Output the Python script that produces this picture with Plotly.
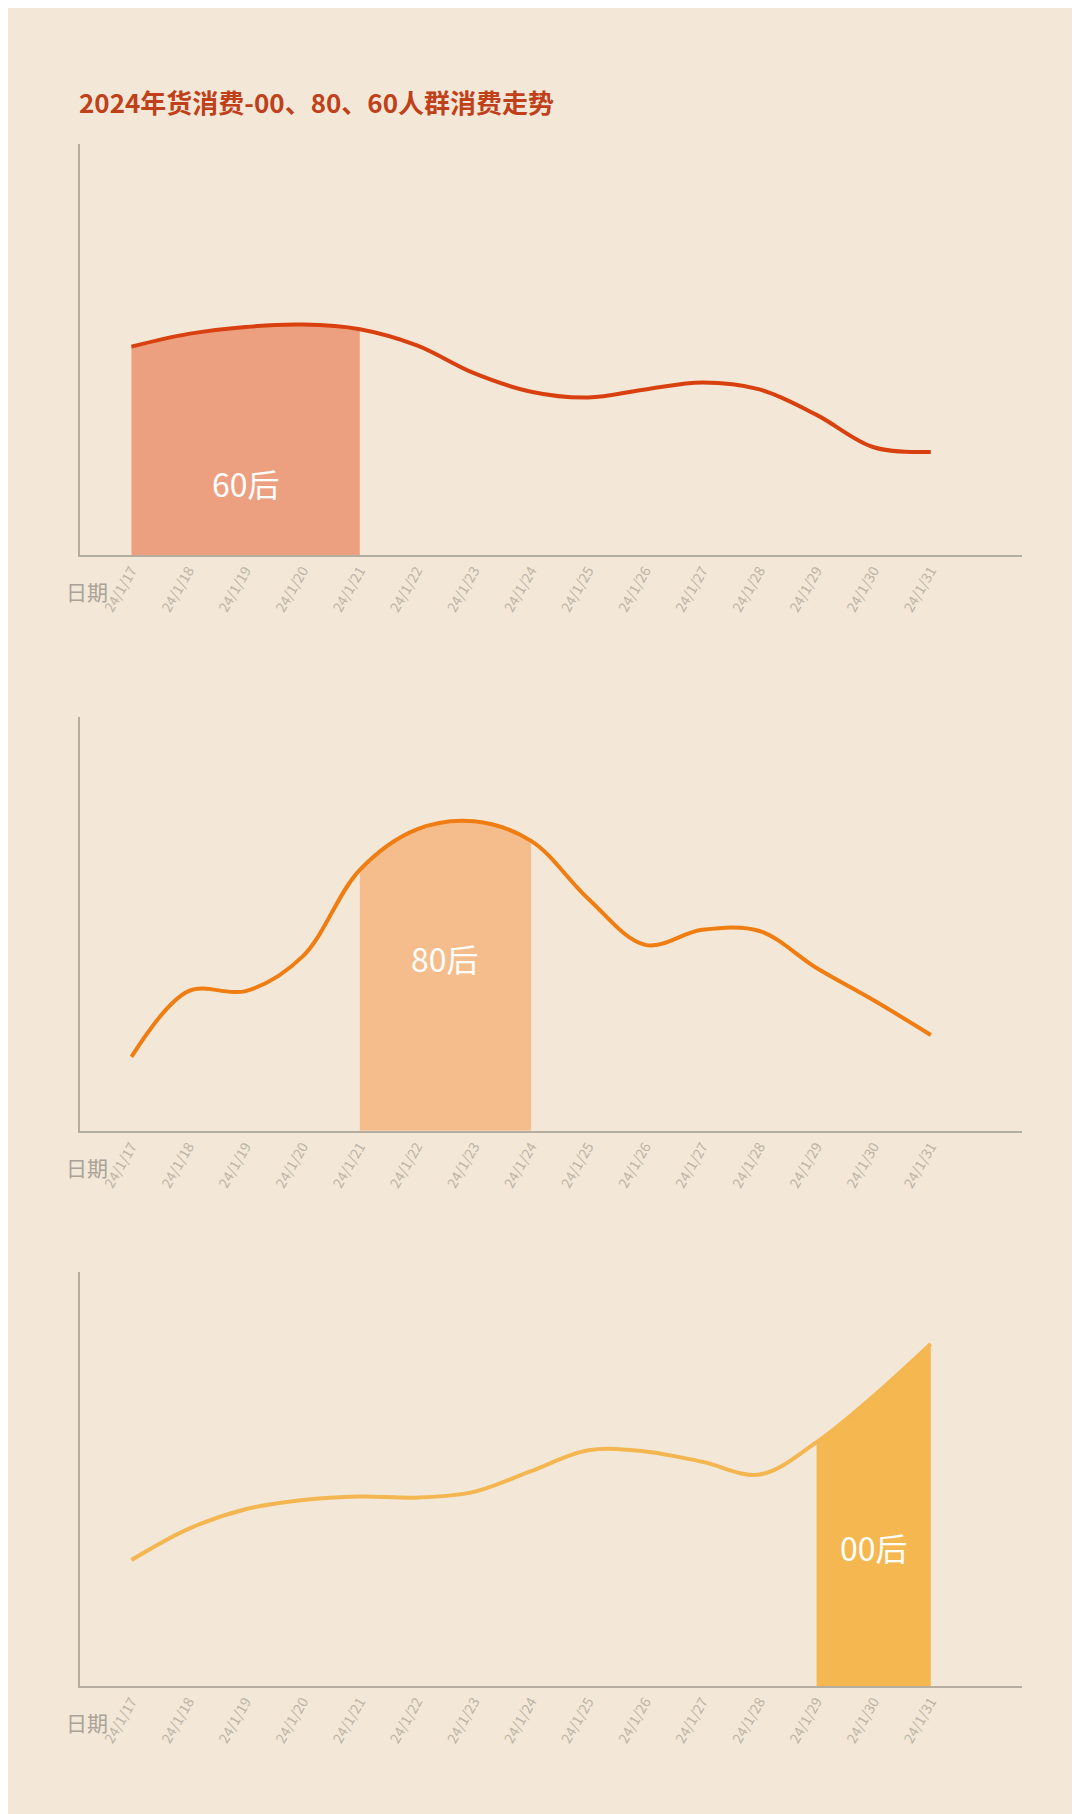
import plotly.graph_objects as go

dates = ["24/1/17", "24/1/18", "24/1/19", "24/1/20", "24/1/21", "24/1/22", "24/1/23", "24/1/24",
         "24/1/25", "24/1/26", "24/1/27", "24/1/28", "24/1/29", "24/1/30", "24/1/31"]
idx = list(range(len(dates)))

v60 = [180, 191, 197, 199, 195, 181, 157, 141, 136, 143, 149, 143, 121, 93, 89]
v80 = [64, 121, 121, 151, 226, 261, 268, 251, 201, 161, 174, 173, 141, 113, 83]
v00 = [109, 136, 153, 161, 164, 163, 168, 186, 204, 203, 194, 183, 211, 251, 296]

groups = [
    ("60后", v60, (0, 4), 62, "#d9400f", "#eda080"),
    ("80后", v80, (4, 7), 150, "#f07d12", "#f6bd8c"),
    ("00后", v00, (12, 14), 120, "#f3b650", "#f5b850"),
]
domains = [(0.6985, 0.925), (0.381, 0.609), (0.075, 0.303)]
ymax = [355, 358, 358]

bg = "#f3e8d7"
fig = go.Figure()
font = "Noto Sans CJK SC"

for i, (name, vals, (a, b), ly, lc, fc) in enumerate(groups):
    n = "" if i == 0 else str(i + 1)
    xs = idx[a:b + 1]
    fig.add_trace(go.Scatter(x=xs, y=vals[a:b + 1], mode="lines", line=dict(width=0, shape="spline"),
                             fill="tozeroy", fillcolor=fc, xaxis="x" + n, yaxis="y" + n,
                             showlegend=False, hoverinfo="skip"))
    fig.add_trace(go.Scatter(x=idx, y=vals, mode="lines", line=dict(color=lc, width=4, shape="spline"),
                             xaxis="x" + n, yaxis="y" + n, showlegend=False))
    fig.add_annotation(x=(a + b) / 2, y=ly, text=name,
                       xref="x" + n, yref="y" + n, showarrow=False,
                       font=dict(family=font, size=32, color="white"))
    fig.add_annotation(x=0.052, y=domains[i][0] - 0.02, xref="paper", yref="paper", text="日期",
                       showarrow=False, yanchor="middle",
                       font=dict(family=font, size=21, color="#aaa298"))
    fig.layout["xaxis" + n] = dict(domain=[0.0667, 0.939], anchor="y" + n, range=[-0.9, 15.6],
                                   tickvals=idx, ticktext=dates, tickangle=-60, showgrid=False,
                                   zeroline=False, showline=True, linecolor="#b5ad9f", linewidth=2,
                                   ticks="", tickfont=dict(family=font, size=14, color="#bdb4a6"))
    fig.layout["yaxis" + n] = dict(domain=list(domains[i]), anchor="x" + n, range=[0, ymax[i]],
                                   showgrid=False, zeroline=False, showline=True, linecolor="#b5ad9f",
                                   linewidth=2, showticklabels=False, ticks="")

fig.add_annotation(x=0.064, y=1 - 73 / 1814, xref="paper", yref="paper", xanchor="left",
                   text="<b>2024年货消费-00、80、60人群消费走势</b>", showarrow=False,
                   font=dict(family=font, size=26, color="#c0401a"))

fig.update_layout(width=1080, height=1814, paper_bgcolor=bg, plot_bgcolor=bg,
                  margin=dict(l=0, r=0, t=0, b=0))

fig.write_html("out.html")
